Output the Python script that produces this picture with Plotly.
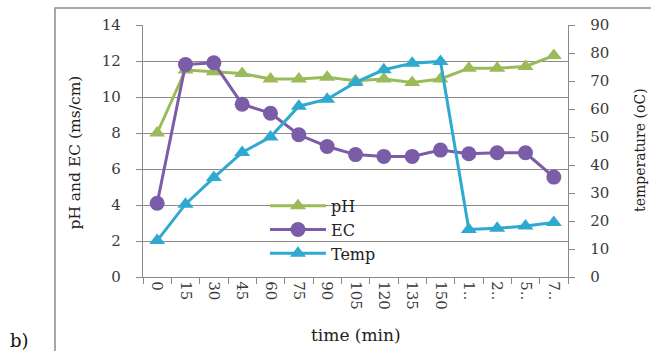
import plotly.graph_objects as go

categories = ["0", "15", "30", "45", "60", "75", "90", "105", "120", "135", "150", "1..", "2..", "5..", "7.."]
ph = [8.0, 11.5, 11.4, 11.3, 11.0, 11.0, 11.1, 10.9, 11.0, 10.8, 11.0, 11.6, 11.6, 11.7, 12.3]
ec = [4.1, 11.8, 11.9, 9.6, 9.1, 7.9, 7.25, 6.8, 6.7, 6.7, 7.05, 6.85, 6.9, 6.9, 5.55]
temp = [13.0, 26.0, 35.5, 44.5, 50.0, 61.0, 63.5, 69.5, 74.0, 76.3, 77.0, 17.0, 17.4, 18.2, 19.5]

FONT = "DejaVu Serif"
GRID = "#8a8a8a"
TXT = "#3a3a3a"

fig = go.Figure()
fig.add_trace(go.Scatter(x=categories, y=ph, name="pH", mode="lines+markers",
                         line=dict(color="#9BBB59", width=3),
                         marker=dict(symbol="triangle-up", size=14, color="#9BBB59")))
fig.add_trace(go.Scatter(x=categories, y=ec, name="EC", mode="lines+markers",
                         line=dict(color="#7B5CA8", width=3),
                         marker=dict(symbol="circle", size=15, color="#7B5CA8")))
fig.add_trace(go.Scatter(x=categories, y=temp, name="Temp", mode="lines+markers", yaxis="y2",
                         line=dict(color="#2FA9D0", width=3),
                         marker=dict(symbol="triangle-up", size=14, color="#2FA9D0")))

fig.update_layout(
    width=651, height=351,
    margin=dict(l=143, r=83, t=25, b=74),
    paper_bgcolor="white", plot_bgcolor="white",
    font=dict(family=FONT, size=15, color=TXT),
    showlegend=True,
    legend=dict(x=0.287, y=0.35, xanchor="left", yanchor="top",
                bgcolor="rgba(0,0,0,0)", font=dict(family=FONT, size=16, color="#222"),
                tracegroupgap=0, itemwidth=56),
    xaxis=dict(type="category", range=[-0.5, 14.5], tickangle=90,
               showline=True, linecolor=GRID, linewidth=1.3,
               ticks="outside", tickson="boundaries", ticklen=6, tickcolor=GRID,
               showgrid=False, tickfont=dict(size=15, color=TXT)),
    yaxis=dict(range=[0, 14], dtick=2, showgrid=True, gridcolor=GRID, gridwidth=1.2,
               showline=True, linecolor=GRID, linewidth=1.3, zeroline=False,
               ticks="outside", ticklen=6, tickcolor=GRID, ticklabelstandoff=12,
               tickfont=dict(size=15, color=TXT)),
    yaxis2=dict(range=[0, 90], dtick=10, overlaying="y", side="right", showgrid=False,
                showline=True, linecolor=GRID, linewidth=1.3, zeroline=False,
                ticks="outside", ticklen=6, tickcolor=GRID, ticklabelstandoff=12,
                tickfont=dict(size=15, color=TXT)),
)

fig.add_shape(type="rect", xref="paper", yref="paper",
              x0=(55 - 143) / 425, x1=1.3, y0=-0.4, y1=(277 - 8) / 252,
              line=dict(color="#8c8c8c", width=1.5), fillcolor="rgba(0,0,0,0)", layer="below")

ann = dict(xref="paper", yref="paper", showarrow=False, xanchor="center", yanchor="middle")
fig.add_annotation(text="time (min)", x=0.5, y=(277 - 335) / 252,
                   font=dict(family=FONT, size=17, color="#222"), **ann)
fig.add_annotation(text="pH and EC (ms/cm)", x=(74.5 - 143) / 425,
                   y=(277 - 153) / 252, textangle=-90,
                   font=dict(family=FONT, size=15.5, color="#222"), **ann)
fig.add_annotation(text="temperature (oC)", x=(640 - 143) / 425,
                   y=(277 - 150) / 252, textangle=-90,
                   font=dict(family=FONT, size=14, color="#222"), **ann)
fig.add_annotation(text="b)", x=(19 - 143) / 425,
                   y=(277 - 340) / 252,
                   font=dict(family=FONT, size=18, color="#111"), **ann)

fig.write_html("out.html")
